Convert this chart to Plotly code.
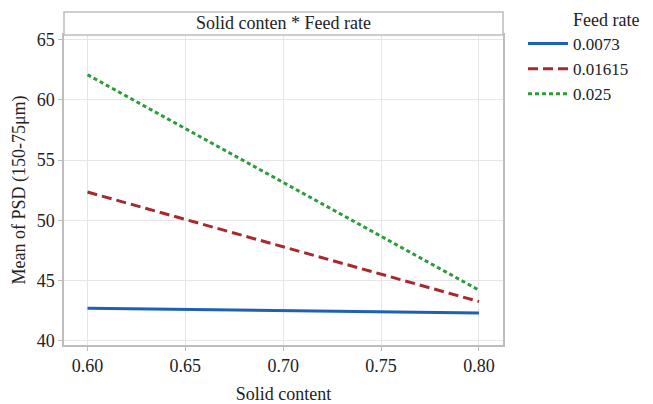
import plotly.graph_objects as go

solid_content = [0.60, 0.80]
feed_rates = ["0.0073", "0.01615", "0.025"]
mean_psd = {
    "0.0073": [42.7, 42.3],
    "0.01615": [52.35, 43.25],
    "0.025": [62.1, 44.2],
}
x_ticks = [0.60, 0.65, 0.70, 0.75, 0.80]
x_tick_labels = ["0.60", "0.65", "0.70", "0.75", "0.80"]
y_ticks = [40, 45, 50, 55, 60, 65]

colors = {"0.0073": "#1f5fb5", "0.01615": "#a8282d", "0.025": "#2a9c3a"}
dashes = {"0.0073": "solid", "0.01615": "10px,5px", "0.025": "4px,3px"}

FONT = "'Liberation Serif', 'Times New Roman', 'DejaVu Serif', serif"
FS = 18

fig = go.Figure()
for fr in feed_rates:
    fig.add_trace(go.Scatter(
        x=solid_content, y=mean_psd[fr], mode="lines", name=fr,
        line=dict(color=colors[fr], width=3, dash=dashes[fr]),
    ))

# page body has an 8px margin: figure is drawn offset by (8, 8)
OFF = 8
W, H = 653 - OFF, 404 - OFF
ml, mr, mt, mb = 64 - OFF, 150, 35 - OFF, 59
pw = W - ml - mr
ph = H - mt - mb
fig.update_layout(
    width=W, height=H,
    margin=dict(l=ml, r=mr, t=mt, b=mb, autoexpand=False),
    paper_bgcolor="white", plot_bgcolor="white",
    font=dict(family=FONT, size=FS, color="#222222"),
    legend=dict(
        x=(526 - 64 - 3) / pw, y=1 + (35 - 26) / ph, xanchor="left", yanchor="top",
        font=dict(family=FONT, size=17, color="#222"),
        tracegroupgap=0, itemwidth=40, bgcolor="rgba(0,0,0,0)",
    ),
    xaxis=dict(
        range=[0.588, 0.8123], tickvals=x_ticks, ticktext=x_tick_labels,
        showgrid=True, gridcolor="#e6e6e6", gridwidth=1,
        showline=True, linecolor="#bdbdbd", linewidth=1.5, mirror=True,
        ticks="outside", ticklen=4, tickcolor="#bdbdbd",
        zeroline=False, automargin=False,
        title=dict(text="Solid content", font=dict(family=FONT, size=FS), standoff=19),
        tickfont=dict(family=FONT, size=FS),
    ),
    yaxis=dict(
        range=[39.64, 65.4], tickvals=y_ticks,
        showgrid=True, gridcolor="#e6e6e6", gridwidth=1,
        showline=True, linecolor="#bdbdbd", linewidth=1.5, mirror=True,
        ticks="outside", ticklen=4, tickcolor="#bdbdbd",
        zeroline=False, automargin=False,
        title=dict(text="Mean of PSD (150-75μm)", font=dict(family=FONT, size=FS), standoff=6),
        tickfont=dict(family=FONT, size=FS),
    ),
    showlegend=True,
)

# header strip
strip_h = 23 / ph
fig.add_shape(type="rect", xref="paper", yref="paper", x0=0, x1=1, y0=1, y1=1 + strip_h,
              line=dict(color="#bdbdbd", width=1.5), fillcolor="white", layer="above")
fig.add_annotation(text="Solid conten * Feed rate", xref="paper", yref="paper",
                   x=0.5, y=1 + strip_h / 2, showarrow=False,
                   font=dict(family=FONT, size=FS, color="#222"), yanchor="middle")
# legend title
fig.add_annotation(text="Feed rate", xref="paper", yref="paper",
                   x=(571 - 64) / pw, y=1 + (35 - 20) / ph, xanchor="left", yanchor="middle",
                   showarrow=False, font=dict(family=FONT, size=FS, color="#222"))

fig.write_html("out.html")
